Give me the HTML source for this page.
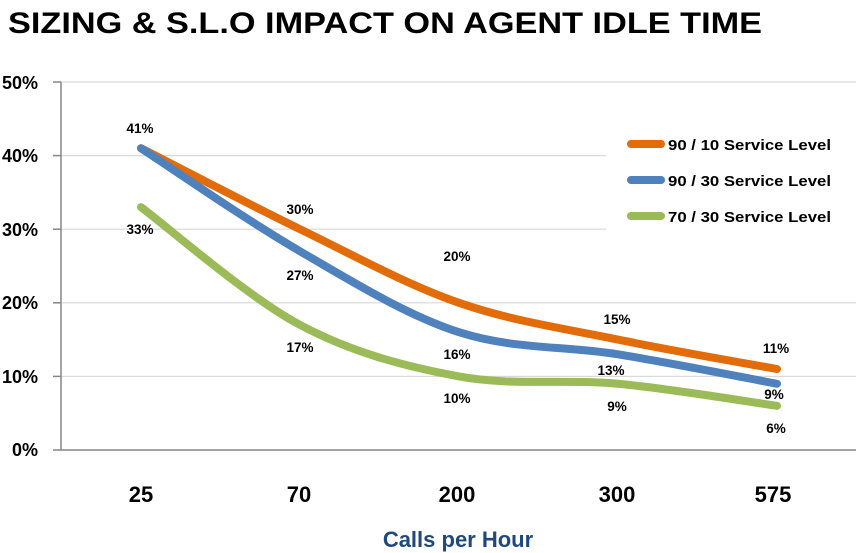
<!DOCTYPE html>
<html><head><meta charset="utf-8"><style>body{margin:0;background:#fff}svg{display:block}text{font-family:"Liberation Sans",sans-serif;font-weight:bold}</style></head><body>
<svg width="856" height="553" viewBox="0 0 856 553">
<text x="8" y="33" font-size="30" textLength="754" lengthAdjust="spacingAndGlyphs">SIZING &amp; S.L.O IMPACT ON AGENT IDLE TIME</text>
<g stroke="#d9d9d9" stroke-width="1.2">
<line x1="61" y1="82" x2="856" y2="82"/><line x1="61" y1="155.6" x2="856" y2="155.6"/><line x1="61" y1="229.2" x2="856" y2="229.2"/><line x1="61" y1="302.8" x2="856" y2="302.8"/><line x1="61" y1="376.4" x2="856" y2="376.4"/>
</g>
<rect x="606" y="96" width="250" height="196" fill="#fff"/>
<g stroke="#868686" stroke-width="1.5">
<line x1="61" y1="82" x2="61" y2="450"/><line x1="61" y1="450" x2="856" y2="450"/>
<line x1="53" y1="82" x2="61" y2="82"/><line x1="53" y1="155.6" x2="61" y2="155.6"/><line x1="53" y1="229.2" x2="61" y2="229.2"/><line x1="53" y1="302.8" x2="61" y2="302.8"/><line x1="53" y1="376.4" x2="61" y2="376.4"/><line x1="53" y1="450" x2="61" y2="450"/>
</g>
<g font-size="18" text-anchor="end">
<text x="38" y="89">50%</text><text x="38" y="162">40%</text><text x="38" y="236">30%</text><text x="38" y="309">20%</text><text x="38" y="383">10%</text><text x="38" y="456">0%</text>
</g>
<g fill="none" stroke-width="8" stroke-linecap="round">
<path stroke="#e36c0a" d="M141,148.24 C167.5,161.73 247,203.44 300,229.2 C353,254.96 406,284.4 459,302.8 C512,321.2 565,328.56 618,339.6 C671,350.64 750.5,364.13 777,369.04"/>
<path stroke="#4f81bd" d="M141,148.24 C167.5,165.41 247,220.61 300,251.28 C353,281.95 406,315.07 459,332.24 C512,349.41 565,345.73 618,354.32 C671,362.91 750.5,378.85 777,383.76"/>
<path stroke="#9bbb59" d="M141,207.12 C167.5,226.75 247,296.67 300,324.88 C353,353.09 406,366.59 459,376.4 C512,386.21 565,378.85 618,383.76 C671,388.67 750.5,402.16 777,405.84"/>
</g>
<g font-size="13.5" text-anchor="middle">
<text x="140" y="133">41%</text><text x="300" y="214">30%</text><text x="300" y="280">27%</text><text x="140" y="234">33%</text><text x="300" y="352">17%</text><text x="457" y="261">20%</text><text x="457" y="359">16%</text><text x="457" y="403">10%</text><text x="617" y="324">15%</text><text x="611" y="375">13%</text><text x="617" y="411">9%</text><text x="776" y="353">11%</text><text x="774" y="399">9%</text><text x="776" y="433">6%</text>
</g>
<g stroke-width="8" stroke-linecap="round">
<line x1="631" y1="144" x2="661" y2="144" stroke="#e36c0a"/><line x1="631" y1="180" x2="661" y2="180" stroke="#4f81bd"/><line x1="631" y1="216" x2="661" y2="216" stroke="#9bbb59"/>
</g>
<g font-size="15">
<text x="668" y="150" textLength="163" lengthAdjust="spacingAndGlyphs">90 / 10 Service Level</text>
<text x="668" y="186" textLength="163" lengthAdjust="spacingAndGlyphs">90 / 30 Service Level</text>
<text x="668" y="222" textLength="163" lengthAdjust="spacingAndGlyphs">70 / 30 Service Level</text>
</g>
<g font-size="22" text-anchor="middle">
<text x="141" y="502">25</text><text x="299" y="502">70</text><text x="457" y="502">200</text><text x="617" y="502">300</text><text x="773" y="502">575</text>
</g>
<text x="458" y="547" font-size="22" fill="#1f497d" text-anchor="middle">Calls per Hour</text>
</svg></body></html>
